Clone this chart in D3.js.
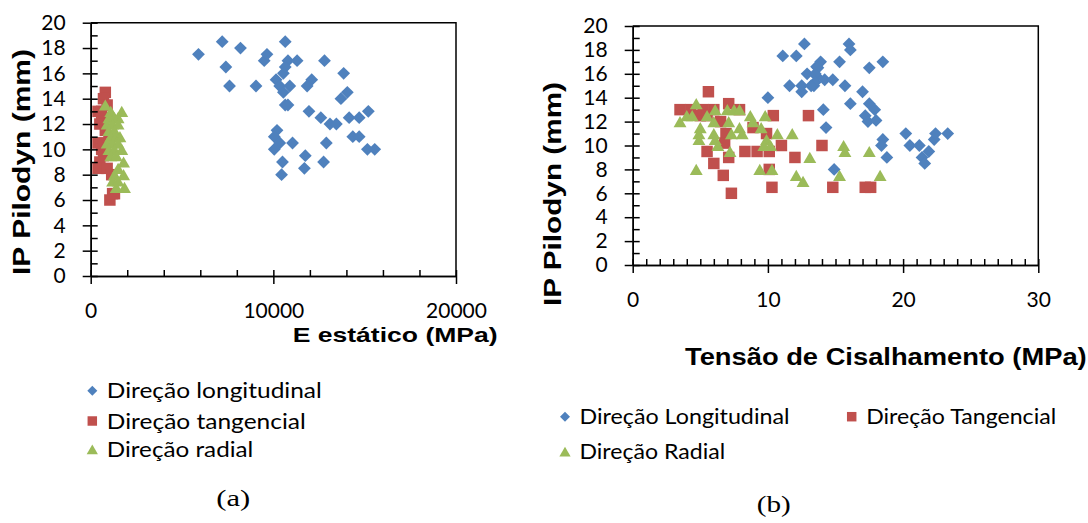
<!DOCTYPE html>
<html>
<head>
<meta charset="utf-8">
<script src="https://cdn.jsdelivr.net/npm/d3@7"></script>
<style>
  body { margin: 0; background: #ffffff; }
  svg { display: block; }
</style>
</head>
<body>
<svg id="fig" width="1088" height="523"></svg>
<script>
// ---------- (a) IP Pilodyn vs static modulus E (MPa) ----------
const eLongitudinal = [
  [5900,17.5],[7200,18.5],[7400,16.5],[7600,15],[8200,18],[9050,15],[9500,17],[9650,17.5],
  [10650,18.5],[10800,17],[11300,17],[12800,17],[10650,16.5],[10550,16],[13850,16],
  [10150,15.5],[10350,15],[10550,14.5],[10900,15],[12100,15.5],[11850,15],[14050,14.5],
  [13700,14],[10650,13.5],[10800,13.5],[11950,13],[12600,12.5],[13100,12],[13450,12],
  [14150,12.5],[14700,12.5],[15200,13],[10200,11.5],[10050,11],[10350,10.5],[10050,10],
  [11050,10.5],[12900,10.5],[14350,11],[14700,11],[15150,10],[15550,10],[10500,9],
  [11750,9.5],[12750,9],[11700,8.5],[10450,8]
];
const eTangencial = [
  [800,14.5],[700,14],[900,13.5],[400,13],[600,12.5],[500,12],[800,11.5],[400,10.5],
  [600,10],[700,9.5],[500,9],[400,8.5],[900,8.5],[1150,8],[1300,6.5],[1050,6],
  [1200,6.5],[700,10.5],[1000,11],[600,13]
];
const eRadial = [
  [800,13.5],[1100,13],[1700,13],[1000,12.5],[1300,12.5],[1500,12.5],[900,12],[1200,12],
  [1500,12],[1000,11.5],[1300,11.5],[1100,11],[1400,11],[1600,11],[900,10.5],[1200,10.5],
  [1500,10.5],[1000,10],[1300,10],[1700,10],[1100,9.5],[1400,9.5],[1800,9],[1500,8.5],
  [1300,8],[1800,8],[1200,7.5],[1500,7.5],[1400,7],[1850,7]
];

// ---------- (b) IP Pilodyn vs shear stress (MPa) ----------
const tLongitudinal = [
  [10.0,14],[11.1,17.5],[12.1,17.5],[12.7,18.5],[11.6,15],[12.5,14.5],[12.5,15],[12.9,16],
  [13.4,15],[13.6,15.8],[13.6,16.6],[13.9,17],[13.7,16.5],[13.5,16],[13.5,15.3],[13.2,15],
  [14.2,15.5],[14.8,15.5],[15.3,17],[15.7,15],[17.5,16.5],[18.5,17],[17.0,14.5],[16.1,13.5],
  [14.1,13],[17.5,13.5],[17.9,13],[17.2,12.5],[17.4,12],[18.0,12.1],[14.3,11.5],[18.5,10.5],
  [18.4,10],[18.8,9],[14.9,8],[16.0,18.5],[16.1,18],[20.2,11],[20.5,10],[21.2,10],
  [21.4,9],[21.6,8.5],[21.9,9.5],[22.3,10.5],[22.4,11],[23.3,11]
];
const tTangencial = [
  [3.5,13],[4.3,13],[5.0,12.5],[5.6,14.5],[5.2,13],[6.0,13],[7.1,13.5],[7.9,13],
  [5.5,12.5],[6.5,12],[6.9,11],[6.8,10.2],[5.5,9.5],[6.0,8.5],[6.7,7.5],[7.3,6],
  [7.1,9],[8.3,9.5],[9.2,9.5],[10.1,9.5],[8.9,11.5],[9.9,11],[10.4,12.5],[10.1,8],
  [10.3,6.5],[11.0,10],[12.0,9],[13.0,12.5],[14.0,10],[14.8,6.5],[17.2,6.5],[17.6,6.5]
];
const tRadial = [
  [3.5,12],[4.0,12.5],[4.4,12.5],[4.7,13.5],[5.0,11.5],[4.9,11],[4.9,10.5],[4.7,8],
  [5.5,12.5],[6.0,12],[6.1,13],[6.0,11],[6.1,10.5],[6.3,10],[7.0,13],[7.5,13],[7.9,13],
  [7.1,12],[7.3,11],[7.2,9.5],[7.9,11.5],[8.1,11],[8.7,12.5],[8.9,12],[9.8,12.5],
  [9.5,11.5],[9.9,10.5],[10.2,10],[9.7,10],[9.4,8],[10.3,8],[10.7,11],[11.8,11],
  [12.1,7.5],[12.6,7],[13.1,9],[15.6,10],[15.7,9.5],[15.3,7.5],[17.5,9.5],[18.3,7.5]
];

// ---------- ticks and labels ----------
const yTicks = [0,2,4,6,8,10,12,14,16,18,20];
const eTicks = [0,10000,20000];
const tTicks = [0,10,20,30];
const legendA = ["Direção longitudinal","Direção tangencial","Direção radial"];
const legendB = ["Direção Longitudinal","Direção Tangencial","Direção Radial"];

const BLUE = "#4F81BD", RED = "#C0504D", GREEN = "#9BBB59";
const TICK_FONT = "Lato, 'Open Sans', sans-serif";
const TITLE_FONT = "'Liberation Sans', Arial, sans-serif";

// Excel-style marker shapes (size = area in px^2)
const diamond = { draw(ctx, size) { const r = Math.sqrt(size / 2);
  ctx.moveTo(0,-r); ctx.lineTo(r,0); ctx.lineTo(0,r); ctx.lineTo(-r,0); ctx.closePath(); } };
const square = { draw(ctx, size) { const h = Math.sqrt(size) / 2;
  ctx.rect(-h,-h,2*h,2*h); } };
const triangle = { draw(ctx, size) { const a = Math.sqrt(size * 4 / Math.sqrt(3)); const h = a * Math.sqrt(3) / 2;
  ctx.moveTo(0,-h/2); ctx.lineTo(a/2,h/2); ctx.lineTo(-a/2,h/2); ctx.closePath(); } };

const svg = d3.select("#fig");

function panel(cfg) {
  const g = svg.append("g");
  const x = d3.scaleLinear().domain(cfg.xDomain).range([cfg.left, cfg.right]);
  const y = d3.scaleLinear().domain([0, 20]).range([cfg.bottom, cfg.top]);

  // plot-area frame (top and right)
  g.append("path")
    .attr("d", `M${x.range()[0]},${y(20)}H${x(cfg.xDomain[1])}V${y(0)}`)
    .attr("fill", "none").attr("stroke", "#000").attr("stroke-width", 1.5);

  // points
  cfg.series.forEach(s => {
    g.append("g").selectAll("path").data(s.data).join("path")
      .attr("transform", d => `translate(${x(d[0])},${y(d[1])})`)
      .attr("d", d3.symbol().type(s.type).size(s.size))
      .attr("fill", s.color);
  });

  const styleAxis = a => {
    a.selectAll("path, line").attr("stroke", "#000").attr("stroke-width", 1.5);
    a.selectAll("text").attr("font-family", TICK_FONT).attr("font-size", 21).attr("fill", "#000");
  };

  // y axis: minor ticks inside, major ticks crossing
  g.append("g").attr("transform", `translate(${cfg.left},0)`)
    .call(d3.axisRight(y).tickValues(d3.range(0, 21, 1)).tickSize(7).tickSizeOuter(0).tickFormat(""))
    .call(styleAxis);
  g.append("g").attr("transform", `translate(${cfg.left},0)`)
    .call(d3.axisLeft(y).tickValues(yTicks).tickSize(8).tickSizeOuter(0).tickPadding(17))
    .call(styleAxis);

  // x axis
  g.append("g").attr("transform", `translate(0,${cfg.bottom})`)
    .call(d3.axisTop(x).tickValues(cfg.xMinor).tickSize(6).tickSizeOuter(0).tickFormat(""))
    .call(styleAxis);
  g.append("g").attr("transform", `translate(0,${cfg.bottom})`)
    .call(d3.axisBottom(x).tickValues(cfg.xTicks).tickSize(8).tickSizeOuter(0).tickPadding(19).tickFormat(d3.format("d")))
    .call(styleAxis);

  // y title
  g.append("text")
    .attr("transform", `translate(${cfg.yTitle.x},${cfg.yTitle.y}) rotate(-90)`)
    .attr("text-anchor", "middle")
    .attr("font-family", TITLE_FONT).attr("font-weight", "bold").attr("font-size", 24)
    .attr("textLength", cfg.yTitle.len).attr("lengthAdjust", "spacingAndGlyphs")
    .text("IP Pilodyn (mm)");

  // x title
  g.append("text")
    .attr("x", cfg.xTitle.x).attr("y", cfg.xTitle.y)
    .attr("font-family", TITLE_FONT).attr("font-weight", "bold").attr("font-size", cfg.xTitle.size)
    .attr("textLength", cfg.xTitle.len).attr("lengthAdjust", "spacingAndGlyphs")
    .text(cfg.xTitle.text);

  // legend
  cfg.legend.forEach(item => {
    g.append("path")
      .attr("transform", `translate(${item.x},${item.y})`)
      .attr("d", d3.symbol().type(item.type).size(item.size))
      .attr("fill", item.color);
    g.append("text")
      .attr("x", item.x + 14.5).attr("y", item.y)
      .attr("dy", "0.35em")
      .attr("font-family", TICK_FONT).attr("font-size", 22)
      .attr("textLength", item.len).attr("lengthAdjust", "spacingAndGlyphs")
      .text(item.label);
  });

  // caption
  g.append("text")
    .attr("x", cfg.caption.x).attr("y", cfg.caption.y)
    .attr("text-anchor", "middle")
    .attr("font-family", "'Liberation Serif', 'Times New Roman', serif").attr("font-size", 23)
    .attr("textLength", 34).attr("lengthAdjust", "spacingAndGlyphs")
    .text(cfg.caption.text);
}

panel({
  left: 90.7, right: 456, top: 22.7, bottom: 276,
  xDomain: [0, 20000], xTicks: eTicks, xMinor: d3.range(0, 20001, 2000),
  series: [
    { data: eLongitudinal, type: diamond, size: 82, color: BLUE },
    { data: eTangencial, type: square, size: 132, color: RED },
    { data: eRadial, type: triangle, size: 72, color: GREEN }
  ],
  yTitle: { x: 30, y: 162, len: 226 },
  xTitle: { x: 292.7, y: 341.5, size: 21, len: 205, text: "E estático (MPa)" },
  legend: [
    { x: 92.3, y: 390.7, type: diamond, size: 50, color: BLUE, label: legendA[0], len: 215 },
    { x: 92.3, y: 421, type: square, size: 90, color: RED, label: legendA[1], len: 199 },
    { x: 92.3, y: 449.3, type: triangle, size: 55, color: GREEN, label: legendA[2], len: 146.5 }
  ],
  caption: { x: 233.3, y: 506, text: "(a)" }
});

panel({
  left: 632.7, right: 1038.3, top: 26, bottom: 265,
  xDomain: [0, 30], xTicks: tTicks, xMinor: d3.range(0, 31, 1),
  series: [
    { data: tLongitudinal, type: diamond, size: 82, color: BLUE },
    { data: tTangencial, type: square, size: 132, color: RED },
    { data: tRadial, type: triangle, size: 72, color: GREEN }
  ],
  yTitle: { x: 561, y: 194, len: 224 },
  xTitle: { x: 685, y: 365, size: 23, len: 401.7, text: "Tensão de Cisalhamento (MPa)" },
  legend: [
    { x: 565, y: 416.7, type: diamond, size: 50, color: BLUE, label: legendB[0], len: 210 },
    { x: 851.7, y: 416.7, type: square, size: 90, color: RED, label: legendB[1], len: 190 },
    { x: 565, y: 451.7, type: triangle, size: 55, color: GREEN, label: legendB[2], len: 145.7 }
  ],
  caption: { x: 773.7, y: 512, text: "(b)" }
});
</script>
</body>
</html>
